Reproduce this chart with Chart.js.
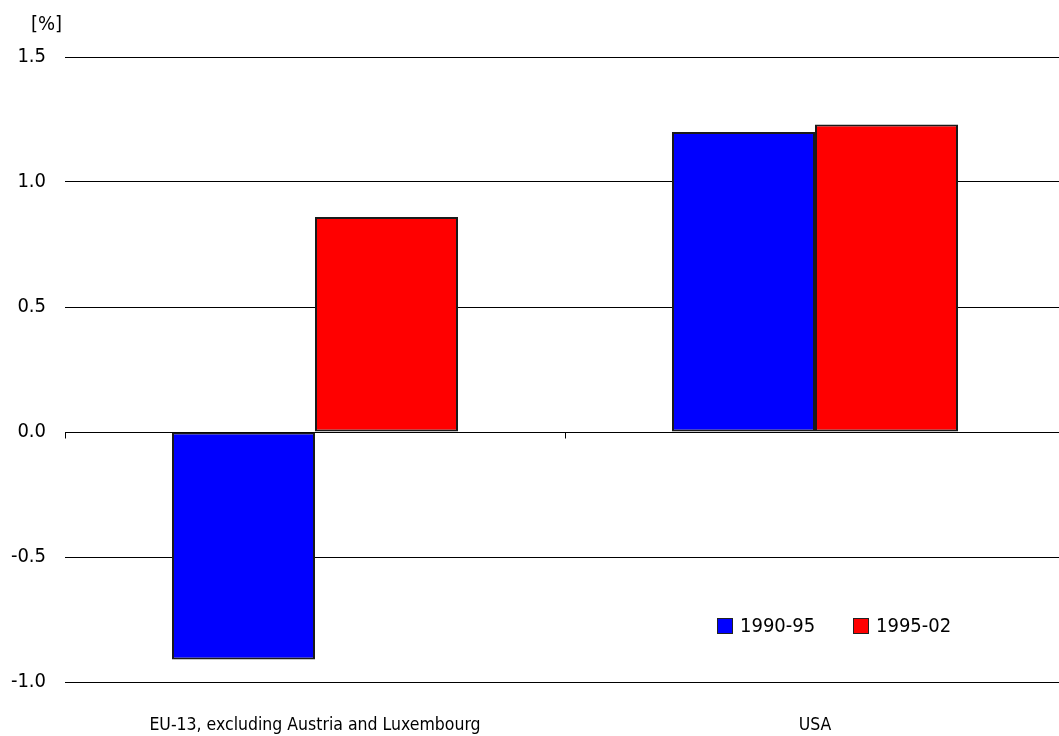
<!DOCTYPE html>
<html>
<head>
<meta charset="utf-8">
<script src="https://cdn.jsdelivr.net/npm/chart.js@4.4.1/dist/chart.umd.min.js"></script>
<style>
  html, body { margin: 0; padding: 0; background: #fff; }
  #wrap { width: 1059px; height: 736px; overflow: hidden; }
</style>
</head>
<body>
<div id="wrap"><canvas id="chart" width="1065" height="736"></canvas></div>
<script>
// data
const categories = ['EU-13, excluding Austria and Luxembourg', 'USA'];
const seriesNames = ['1990-95', '1995-02'];
const values9095 = [-0.91, 1.20];
const values9502 = [0.86, 1.23];
const seriesColors = ['#0000ff', '#ff0000'];
const yUnit = '[%]';

const FONT = "'DejaVu Sans Condensed', 'DejaVu Sans', sans-serif";

// zero line tick marks, legend inside the plot, unit label
const extras = {
  id: 'extras',
  afterDatasetsDraw(chart) {
    const ctx = chart.ctx;
    const y = chart.scales.y;
    const area = chart.chartArea;
    const y0 = Math.round(y.getPixelForValue(0)) + 0.5;
    ctx.save();
    ctx.strokeStyle = '#000';
    ctx.lineWidth = 1;
    const n = categories.length;
    for (let i = 0; i < n; i++) {
      const px = Math.round(area.left + (area.right - area.left) * i / n) + 0.5;
      ctx.beginPath();
      ctx.moveTo(px, y0);
      ctx.lineTo(px, y0 + 6);
      ctx.stroke();
    }
    // legend
    ctx.font = '20px ' + FONT;
    ctx.textBaseline = 'middle';
    ctx.textAlign = 'left';
    let lx = 717;
    const ly = 618;
    seriesNames.forEach((name, i) => {
      ctx.fillStyle = seriesColors[i];
      ctx.fillRect(lx, ly, 16, 16);
      ctx.strokeStyle = '#222';
      ctx.strokeRect(lx + 0.5, ly + 0.5, 15, 15);
      ctx.fillStyle = '#000';
      ctx.fillText(name, lx + 23, ly + 9);
      lx += 136;
    });
    // unit
    ctx.textBaseline = 'alphabetic';
    ctx.fillText(yUnit, 31, 30);
    ctx.restore();
  }
};

new Chart(document.getElementById('chart'), {
  type: 'bar',
  data: {
    labels: categories,
    datasets: [
      { label: seriesNames[0], data: values9095, backgroundColor: seriesColors[0], borderColor: '#1a1a1a', borderWidth: 2, borderSkipped: false },
      { label: seriesNames[1], data: values9502, backgroundColor: seriesColors[1], borderColor: '#1a1a1a', borderWidth: 2, borderSkipped: false }
    ]
  },
  options: {
    responsive: false,
    animation: false,
    devicePixelRatio: 1,
    layout: { padding: { top: 57, right: 0, bottom: 0, left: 0 } },
    datasets: { bar: { categoryPercentage: 0.572, barPercentage: 1 } },
    plugins: { legend: { display: false }, tooltip: { enabled: false } },
    scales: {
      x: {
        grid: { display: false },
        border: { display: false },
        ticks: { color: '#000', font: { family: FONT, size: 17.5 }, padding: 25, maxRotation: 0 },
        afterFit(scale) { scale.height = 54; }
      },
      y: {
        min: -1, max: 1.5,
        grid: { color: '#000', lineWidth: 1, drawTicks: false },
        border: { display: false },
        ticks: {
          stepSize: 0.5, color: '#000', padding: 19,
          font: { family: FONT, size: 20 },
          callback: v => v.toFixed(1)
        },
        afterFit(scale) { scale.width = 65; }
      }
    }
  },
  plugins: [extras]
});
</script>
</body>
</html>
